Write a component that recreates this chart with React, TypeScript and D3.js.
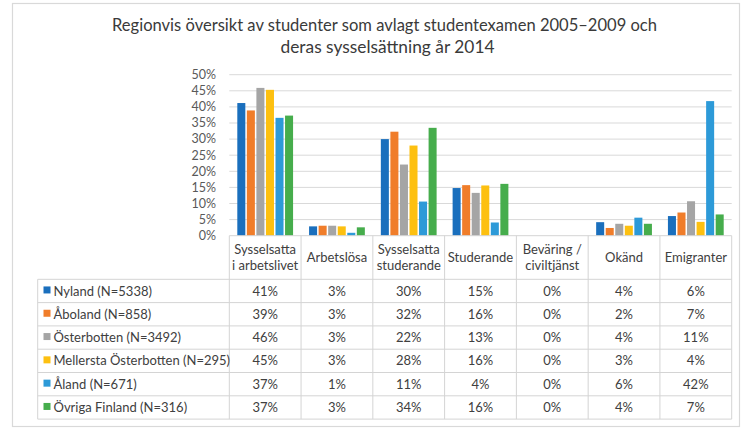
import React from "react";
import * as d3 from "d3";

const titleLines = [
  "Regionvis översikt av studenter som avlagt studentexamen 2005–2009 och",
  "deras sysselsättning år 2014",
];
const titleWidths = [545, 214];

const categories = [
  "Sysselsatta i arbetslivet",
  "Arbetslösa",
  "Sysselsatta studerande",
  "Studerande",
  "Beväring / civiltjänst",
  "Okänd",
  "Emigranter",
];
const categoryLines = [
  ["Sysselsatta", "i arbetslivet"],
  ["Arbetslösa"],
  ["Sysselsatta", "studerande"],
  ["Studerande"],
  ["Beväring /", "civiltjänst"],
  ["Okänd"],
  ["Emigranter"],
];

const regions = [
  "Nyland (N=5338)",
  "Åboland (N=858)",
  "Österbotten (N=3492)",
  "Mellersta Österbotten (N=295)",
  "Åland (N=671)",
  "Övriga Finland (N=316)",
];
const colors = ["#1a6fbd", "#f07d2a", "#a5a5a5", "#fdc010", "#2d9ad8", "#46ad4c"];

const nyland = [41.2, 2.9, 30.0, 14.8, 0, 4.2, 6.1];
const aboland = [38.9, 3.1, 32.3, 15.7, 0, 2.4, 7.2];
const osterbotten = [45.9, 3.1, 22.1, 13.3, 0, 3.7, 10.7];
const mellersta = [45.3, 2.9, 28.0, 15.6, 0, 3.1, 4.3];
const aland = [36.6, 0.9, 10.6, 4.1, 0, 5.6, 41.8];
const ovriga = [37.3, 2.6, 33.5, 16.1, 0, 3.7, 6.6];
const seriesValues = [nyland, aboland, osterbotten, mellersta, aland, ovriga];

const yTicks = [0, 5, 10, 15, 20, 25, 30, 35, 40, 45, 50];

const FONT = "Lato, 'Open Sans', sans-serif";

export default function App() {
  const W = 748;
  const H = 437;
  const plotL = 229.3;
  const plotR = 731.7;
  const yTop = 74.7;
  const yBot = 235.7;
  const tableL = 37.7;
  const headerBottom = 279.3;
  const rowH = 23.3;

  const x = d3.scaleBand<string>().domain(categories).range([plotL, plotR]).padding(0);
  const bw = x.bandwidth();
  const xs = d3.scaleBand<string>().domain(regions).range([8, bw - 8]).paddingInner(0.16);
  const y = d3.scaleLinear().domain([0, 50]).range([yBot, yTop]);

  const gridColor = "#d9d9d9";
  const tableLine = "#d4d4d4";
  const textColor = "#404040";

  const tableBottom = headerBottom + rowH * regions.length;

  return (
    <svg
      width={W}
      height={H}
      style={{ position: "absolute", left: 0, top: 0, background: "#fff" }}
      fontFamily={FONT}
    >
      <rect x={0} y={0} width={W} height={H} fill="#fff" />
      <rect x={12.5} y={3.5} width={727} height={423} fill="#fff" stroke="#d9d9d9" strokeWidth={1.2} />

      {titleLines.map((t, i) => (
        <text
          key={i}
          x={i === 0 ? 384.5 : 387.5}
          y={31 + i * 22}
          textAnchor="middle"
          fontSize={17.5}
          fill="#3a3a3a"
          textLength={titleWidths[i]}
          lengthAdjust="spacingAndGlyphs"
        >
          {t}
        </text>
      ))}

      {/* gridlines */}
      {yTicks.map((t) => (
        <g key={t}>
          {t > 0 && (
            <line x1={plotL} x2={plotR} y1={y(t)} y2={y(t)} stroke={gridColor} strokeWidth={1} />
          )}
          <text
            x={216}
            y={y(t)}
            dy="0.35em"
            textAnchor="end"
            fontSize={12.5}
            fill="#595959"
          >
            {t}%
          </text>
        </g>
      ))}

      {/* bars */}
      {categories.map((c, ci) => (
        <g key={c} transform={`translate(${x(c)},0)`}>
          {regions.map((r, ri) => {
            const v = seriesValues[ri][ci];
            return (
              <rect
                key={r}
                x={xs(r)}
                y={y(v)}
                width={xs.bandwidth()}
                height={yBot - y(v)}
                fill={colors[ri]}
              />
            );
          })}
        </g>
      ))}

      {/* table lines */}
      <line x1={plotL} x2={plotR} y1={yBot} y2={yBot} stroke={tableLine} />
      {categories.map((c) => (
        <line key={c} x1={x(c)} x2={x(c)} y1={yBot} y2={tableBottom} stroke={tableLine} />
      ))}
      <line x1={plotR} x2={plotR} y1={yBot} y2={tableBottom} stroke={tableLine} />
      <line x1={tableL} x2={tableL} y1={headerBottom} y2={tableBottom} stroke={tableLine} />
      {d3.range(regions.length + 1).map((i) => (
        <line
          key={i}
          x1={tableL}
          x2={plotR}
          y1={headerBottom + i * rowH}
          y2={headerBottom + i * rowH}
          stroke={tableLine}
        />
      ))}

      {/* header labels */}
      {categories.map((c, ci) => {
        const lines = categoryLines[ci];
        const cx = (x(c) as number) + bw / 2;
        const cy = (yBot + headerBottom) / 2;
        return (
          <text key={c} x={cx} textAnchor="middle" fontSize={13} fill={textColor}>
            {lines.map((l, li) => (
              <tspan key={li} x={cx} y={cy + (li - (lines.length - 1) / 2) * 16} dy="0.35em">
                {l}
              </tspan>
            ))}
          </text>
        );
      })}

      {/* rows */}
      {regions.map((r, ri) => {
        const cy = headerBottom + ri * rowH + rowH / 2;
        return (
          <g key={r}>
            <rect x={43.5} y={cy - 4.5} width={7} height={7} fill={colors[ri]} />
            <text x={53.5} y={cy} dy="0.35em" fontSize={13} fill={textColor}>
              {r}
            </text>
            {categories.map((c, ci) => (
              <text
                key={c}
                x={(x(c) as number) + bw / 2}
                y={cy}
                dy="0.35em"
                textAnchor="middle"
                fontSize={13}
                fill={textColor}
              >
                {Math.round(seriesValues[ri][ci])}%
              </text>
            ))}
          </g>
        );
      })}
    </svg>
  );
}
